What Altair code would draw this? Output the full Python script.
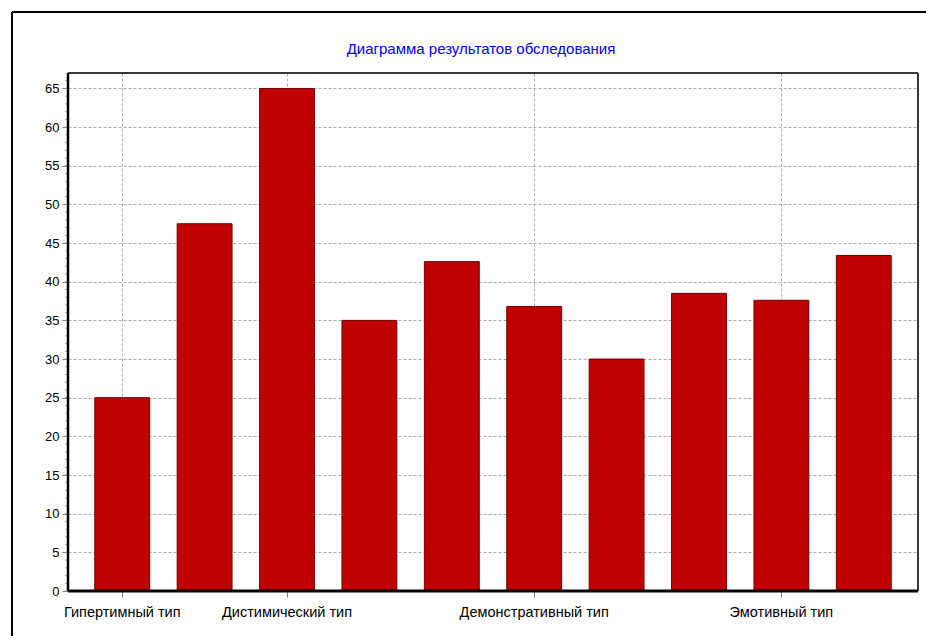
import altair as alt
import pandas as pd

categories = ["Гипертимный тип", "Застревающий тип", "Дистимический тип", "Педантичный тип",
              "Тревожный тип", "Демонстративный тип", "Циклотимный тип", "Возбудимый тип",
              "Эмотивный тип", "Экзальтированный тип"]
values = [25, 47.5, 65, 35, 42.6, 36.8, 30, 38.5, 37.6, 43.4]
labeled = ["Гипертимный тип", "Дистимический тип", "Демонстративный тип", "Эмотивный тип"]
y_ticks = list(range(0, 70, 5))
minor_ticks = list(range(0, 67))
title_text = "Диаграмма результатов обследования"

W, H = 850, 518
FONT = "Liberation Sans"
ydom = alt.Scale(domain=[0, 67], nice=False)
y_axis = alt.Axis(values=y_ticks, title=None, grid=True, gridDash=[3, 2], gridColor="#aaaaaa",
                  tickSize=6, tickColor="#808080", domain=False, labelFont=FONT,
                  labelFontSize=13, labelColor="#000", labelPadding=3)

df = pd.DataFrame({"cat": categories, "val": values})
one = pd.DataFrame({"a": [0]})

bars = alt.Chart(df).mark_bar(color="#c00000", stroke="#700000", strokeWidth=1).encode(
    x=alt.X("cat:N", sort=categories,
            scale=alt.Scale(paddingInner=0.334, paddingOuter=0.325),
            axis=alt.Axis(values=labeled, title=None, labelAngle=0, grid=True, bandPosition=0.5,
                          gridDash=[3, 2], gridColor="#aaaaaa", tickSize=6, tickColor="#808080",
                          domain=False, labelFont=FONT, labelFontSize=14.5, labelColor="#000",
                          labelPadding=8)),
    y=alt.Y("val:Q", scale=ydom, axis=y_axis),
)

minor = alt.Chart(pd.DataFrame({"val": minor_ticks})).mark_rule(color="#a0a0a0").encode(
    y=alt.Y("val:Q", scale=ydom, axis=y_axis),
    x=alt.value(-3), x2=alt.value(0),
)

title = alt.Chart(pd.DataFrame({"t": [title_text]})).mark_text(
    color="#0000ff", font=FONT, fontSize=15, align="center", baseline="middle"
).encode(text="t:N", x=alt.value(413), y=alt.value(-24))

top_b = alt.Chart(one).mark_rule(color="#383838", strokeWidth=2).encode(
    x=alt.value(0), x2=alt.value(W), y=alt.value(0))
right_b = alt.Chart(one).mark_rule(color="#383838", strokeWidth=2).encode(
    x=alt.value(W), y=alt.value(0), y2=alt.value(H))
left_b = alt.Chart(one).mark_rule(color="#000000", strokeWidth=2.5).encode(
    x=alt.value(0), y=alt.value(0), y2=alt.value(H))
bottom_b = alt.Chart(one).mark_rule(color="#000000", strokeWidth=3).encode(
    x=alt.value(0), x2=alt.value(W), y=alt.value(H))

frame_top = alt.Chart(one).mark_rule(color="#000000", strokeWidth=2).encode(
    x=alt.value(-56), x2=alt.value(858), y=alt.value(-61))
frame_left = alt.Chart(one).mark_rule(color="#000000", strokeWidth=2).encode(
    x=alt.value(-56), y=alt.value(-61), y2=alt.value(563))

chart = alt.layer(bars, minor, title, top_b, right_b, left_b, bottom_b, frame_top, frame_left).properties(
    width=W, height=H, padding={"left": 3, "top": 3, "right": 0, "bottom": 0}, background="white"
).configure_view(stroke=None)

chart.save("out.html", embed_options={"renderer": "svg", "actions": False})
